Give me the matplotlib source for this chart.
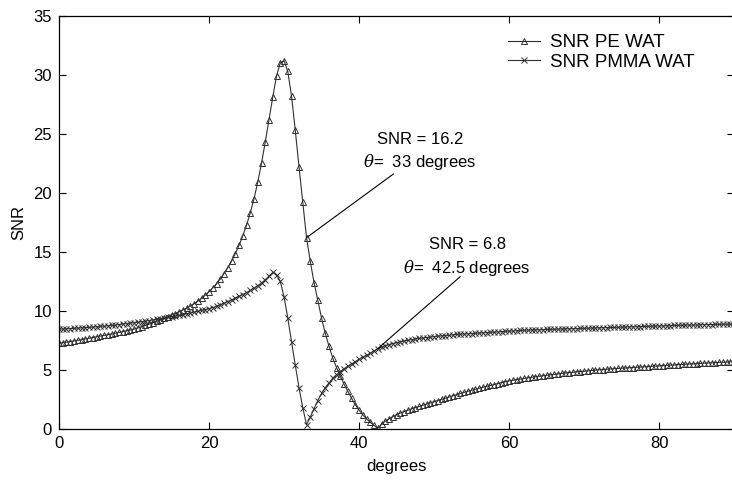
import numpy as np
import matplotlib
matplotlib.use('Agg')
from matplotlib import pyplot as plt

plt.rcParams['font.family'] = ['Liberation Sans', 'DejaVu Sans']
plt.rcParams['mathtext.fontset'] = 'dejavuserif'

# incidence angle, degrees (0.5 deg steps)
degrees = np.arange(0, 90.5, 0.5)

# SNR PE WAT (triangles)
snr_pe = [
    7.25, 7.30, 7.35, 7.40, 7.45, 7.50, 7.56, 7.62, 7.68, 7.74,
    7.80, 7.86, 7.92, 7.98, 8.04, 8.10, 8.17, 8.24, 8.31, 8.38,
    8.46, 8.55, 8.65, 8.76, 8.87, 8.99, 9.11, 9.23, 9.36, 9.49,
    9.62, 9.76, 9.91, 10.06, 10.22, 10.40, 10.60, 10.82, 11.06, 11.32,
    11.62, 11.95, 12.30, 12.70, 13.15, 13.65, 14.20, 14.85, 15.55, 16.35,
    17.25, 18.30, 19.50, 20.90, 22.50, 24.30, 26.20, 28.10, 29.90, 31.00,
    31.20, 30.30, 28.20, 25.30, 22.20, 19.20, 16.20, 14.20, 12.40, 10.90,
    9.40, 8.10, 7.00, 6.00, 5.20, 4.50, 3.80, 3.20, 2.60, 2.05,
    1.60, 1.20, 0.85, 0.55, 0.30, 0.05, 0.40, 0.65, 0.85, 1.05,
    1.20, 1.35, 1.47, 1.59, 1.70, 1.80, 1.90, 2.00, 2.10, 2.20,
    2.30, 2.40, 2.50, 2.60, 2.70, 2.80, 2.90, 3.00, 3.09, 3.18,
    3.27, 3.36, 3.44, 3.52, 3.60, 3.68, 3.76, 3.84, 3.92, 4.00,
    4.07, 4.12, 4.17, 4.22, 4.27, 4.32, 4.37, 4.42, 4.46, 4.50,
    4.54, 4.58, 4.62, 4.66, 4.70, 4.74, 4.77, 4.80, 4.83, 4.86,
    4.89, 4.92, 4.95, 4.98, 5.01, 5.03, 5.05, 5.08, 5.10, 5.12,
    5.14, 5.16, 5.18, 5.20, 5.22, 5.24, 5.26, 5.28, 5.30, 5.32,
    5.34, 5.36, 5.38, 5.40, 5.42, 5.44, 5.46, 5.48, 5.50, 5.51,
    5.53, 5.55, 5.57, 5.58, 5.60, 5.62, 5.63, 5.65, 5.66, 5.68,
    5.70,
]

# SNR PMMA WAT (x markers)
snr_pmma = [
    8.45, 8.46, 8.48, 8.50, 8.52, 8.54, 8.56, 8.58, 8.60, 8.62,
    8.65, 8.68, 8.71, 8.74, 8.77, 8.80, 8.84, 8.88, 8.92, 8.96,
    9.00, 9.04, 9.08, 9.13, 9.18, 9.23, 9.28, 9.33, 9.38, 9.44,
    9.50, 9.56, 9.62, 9.68, 9.75, 9.82, 9.89, 9.96, 10.03, 10.10,
    10.18, 10.28, 10.39, 10.51, 10.64, 10.78, 10.92, 11.07, 11.22, 11.38,
    11.55, 11.73, 11.92, 12.13, 12.37, 12.63, 12.95, 13.25, 13.05, 12.50,
    11.20, 9.40, 7.40, 5.40, 3.50, 1.80, 0.35, 1.00, 1.70, 2.40,
    3.00, 3.50, 3.90, 4.30, 4.60, 4.85, 5.10, 5.30, 5.50, 5.70,
    5.90, 6.07, 6.24, 6.40, 6.60, 6.80, 6.93, 7.04, 7.14, 7.23,
    7.31, 7.38, 7.45, 7.51, 7.56, 7.61, 7.66, 7.70, 7.74, 7.78,
    7.82, 7.85, 7.88, 7.91, 7.94, 7.97, 8.00, 8.02, 8.04, 8.06,
    8.08, 8.10, 8.12, 8.14, 8.16, 8.18, 8.20, 8.22, 8.24, 8.26,
    8.28, 8.30, 8.32, 8.34, 8.36, 8.37, 8.38, 8.39, 8.40, 8.41,
    8.42, 8.43, 8.44, 8.45, 8.46, 8.47, 8.48, 8.49, 8.50, 8.51,
    8.52, 8.53, 8.54, 8.55, 8.56, 8.57, 8.58, 8.59, 8.60, 8.61,
    8.62, 8.63, 8.64, 8.65, 8.66, 8.67, 8.68, 8.69, 8.70, 8.71,
    8.72, 8.73, 8.74, 8.75, 8.76, 8.77, 8.78, 8.79, 8.80, 8.80,
    8.81, 8.82, 8.83, 8.83, 8.84, 8.85, 8.85, 8.86, 8.87, 8.87,
    8.88,
]

# annotated points: (theta, SNR), and where the leader line ends
annot_theta = [33, 42.5]
annot_snr = [16.2, 6.8]
annot_line_end = [(44.6, 21.6), (53.5, 12.9)]
annot_text_pos = [(48.1, 24.5, 22.6), (54.4, 15.6, 13.6)]

x_ticks = [0, 20, 40, 60, 80]
y_ticks = [0, 5, 10, 15, 20, 25, 30, 35]

ink = '#303030'

fig = plt.figure(figsize=(7.32, 4.83), dpi=100)
ax = fig.add_axes([0.0806, 0.112, 0.9222, 0.8555])

ax.plot(degrees, snr_pe, color=ink, lw=0.8, marker='^', markersize=4,
        markerfacecolor='none', markeredgewidth=0.7, label='SNR PE WAT')
ax.plot(degrees, snr_pmma, color=ink, lw=0.8, marker='x', markersize=4.5,
        markeredgewidth=0.7, label='SNR PMMA WAT')

for i in range(len(annot_theta)):
    ax.annotate('', xy=(annot_theta[i], annot_snr[i]), xytext=annot_line_end[i],
                arrowprops=dict(arrowstyle='-', color='black', lw=0.8,
                                shrinkA=0, shrinkB=0))
    tx, ty1, ty2 = annot_text_pos[i]
    ax.text(tx, ty1, f'SNR = {annot_snr[i]}', ha='center', va='center', fontsize=12)
    ax.text(tx, ty2, rf'$\theta$=  {annot_theta[i]:g} degrees', ha='center',
            va='center', fontsize=12)

ax.set_xlim(0, 90)
ax.set_ylim(0, 35)
ax.set_xticks(x_ticks)
ax.set_yticks(y_ticks)
ax.tick_params(direction='in', length=5, width=0.8, labelsize=12,
               top=True, right=True, pad=5, colors='black')
for sp in ax.spines.values():
    sp.set_linewidth(0.9)
ax.set_xlabel('degrees', fontsize=12, labelpad=6)
ax.set_ylabel('SNR', fontsize=12, labelpad=5)

ax.legend(loc='upper left', bbox_to_anchor=(0.665, 0.955), frameon=False,
          borderpad=0, borderaxespad=0, fontsize=13.5, handlelength=1.7,
          handletextpad=0.55, labelspacing=0.12)

plt.savefig('out.png', dpi=100)
